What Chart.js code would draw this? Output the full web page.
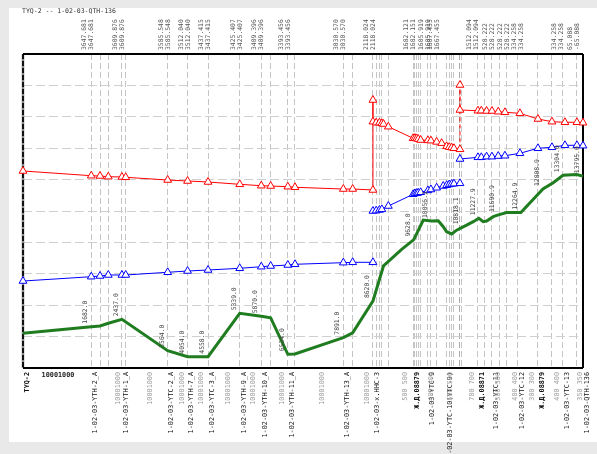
<!DOCTYPE html>
<html>
<head>
<meta charset="utf-8">
<script src="https://cdn.jsdelivr.net/npm/chart.js@4.4.1/dist/chart.umd.min.js"></script>
<style>
  html, body { margin: 0; padding: 0; background: #e9e9e9; }
  #sheet { position: absolute; left: 9px; top: 8px; width: 588px; height: 434px; background: #fff; }
  #wrap { position: absolute; left: 0; top: 0; width: 597px; height: 454px; }
</style>
</head>
<body>
<div id="sheet"></div>
<div id="wrap"><canvas id="profile" width="597" height="454"></canvas></div>
<script>
// Route TYQ-2 -> 1-02-03-QTH-136, distance along the line (m)
const routeTitle = 'TYQ-2 -- 1-02-03-QTH-136';
const routeLength = 13795;

// Station / fitting positions (vertical dashed lines)
const gridDist = [0, 1682, 1897, 2101, 2437, 2530, 3564, 4054, 4558, 5339, 5870, 6101, 6524, 6700,
  7891, 8121, 8620, 8700, 8780, 8840, 9000, 9610, 9655, 9697, 9736, 9796, 9975, 10049, 10190,
  10436, 10500, 10559, 10616, 10746, 10764, 10805, 11207, 11379, 11552, 11749, 11921, 12192,
  12685, 13030, 13300, 13645, 13795];

// Ground elevation profile
const groundDist = [0, 1682, 1897, 2101, 2437, 3564, 4054, 4558, 5339, 5870, 6101, 6524, 6700,
  7891, 8121, 8620, 8880, 9328, 9628, 9860, 10056.1, 10229, 10352, 10436, 10559, 10682, 10818.1,
  10929, 11091, 11227.9, 11337, 11421, 11584, 11690.9, 11914, 12264.9, 12808.9, 13060, 13304, 13638, 13795];
const groundElev = [110.5, 131.5, 133.8, 142.4, 155, 55, 36, 36, 174, 164.6, 160, 43.6, 44.6,
  96.5, 112, 213, 325, 378, 409, 471, 468, 469, 450, 434, 427, 439, 448,
  455, 466, 477, 466, 468, 482, 487, 495, 495, 570, 590, 614, 616, 611];

// Mileage marks written along the ground line
const groundMarkDist = [1682.0, 2437.0, 3564.0, 4054.0, 4558.0, 5339.0, 5870.0, 6524.0, 7891.0,
  8620.0, 9628.0, 10056.1, 10818.1, 11227.9, 11690.9, 12264.9, 12808.9, 13304.0, 13795.0];

// Upper line (red)
const upperDist = [0, 1682, 1897, 2101, 2437, 2530, 3564, 4054, 4558, 5339, 5870, 6101, 6524, 6700,
  7891, 8121, 8620, 8620, 8620, 8700, 8780, 8840, 8880, 9000, 9610, 9655, 9697, 9736, 9796, 9975,
  10049, 10190, 10313, 10436, 10500, 10559, 10616, 10764, 10764, 10764, 11207, 11290, 11420, 11552,
  11707, 11872, 12241, 12685, 13030, 13350, 13645, 13795];
const upperHead = [627.4, 612.4, 611.5, 609.2, 608.3, 607.3, 598.7, 595.5, 592.4, 585, 580.6, 579.6,
  577.4, 575.5, 570, 570, 566.9, 853.5, 784.4, 781.2, 781.2, 779.3, 777, 768.5, 731.5, 732, 731, 729,
  726, 725, 724, 720, 716, 706, 703.5, 702, 699.7, 696.5, 901.3, 821.7, 819.4, 819.4, 818.5, 818.5,
  816.2, 814.3, 811.1, 793, 784.4, 782.5, 782.5, 781.2];
const upperDashedJump = 10764;

// Lower line (blue), broken at the two stations
const lowerDist = [0, 1682, 1897, 2101, 2437, 2530, 3564, 4054, 4558, 5339, 5870, 6101, 6524, 6700,
  7891, 8121, 8620, 8620, 8620, 8700, 8780, 8840, 9000, 9610, 9655, 9697, 9736, 9796, 9975, 10049,
  10190, 10352, 10436, 10500, 10559, 10616, 10764, 10764, 10764, 11207, 11290, 11420, 11552, 11707,
  11872, 12241, 12685, 13030, 13350, 13645, 13795];
const lowerHead = [277, 290.8, 293, 296.2, 296.2, 296.2, 304.8, 308.9, 312.1, 317.5, 322.6, 324.8,
  328, 330.3, 335.4, 336.6, 336.6, null, 500, 501, 503.2, 505.3, 515.9, 553.2, 556, 557, 558, 559.6,
  565.6, 568.5, 574, 579.6, 582, 584.4, 586, 587, 588.2, null, 665.6, 671, 671, 673, 673, 675, 676,
  683.8, 699.7, 702.9, 709.2, 709.2, 708];

// Paired values written above the frame
const topDist = [1682, 2437, 3564, 4054, 4558, 5339, 5870, 6524, 7891, 8620, 9610, 9975, 10190,
  11150, 11552, 11921, 12260, 13250, 13645];
const topValueIn = [3647.681, 3609.876, 3585.548, 3512.040, 3437.415, 3425.407, 3409.396, 3393.456,
  3030.570, 2118.024, 1682.121, 1605.919, 1607.455, 1512.094, 528.222, 528.222, 334.258, 334.258, 65.088];
const topValueOut = [3647.681, 3609.876, 3585.548, 3512.040, 3437.415, 3425.407, 3409.396, 3393.456,
  3030.570, 2118.024, 1682.151, 1605.919, 1667.455, 1512.094, 528.222, 528.222, 334.258, 334.258, -65.088];

// Object names under the frame
const nameDist = [0, 1682, 2437, 3564, 4054, 4558, 5339, 5870, 6524, 7891, 8620, 9610, 9975, 10436,
  11207, 11552, 12192, 12685, 13300, 13795];
const nameText = ['TYQ-2', '1-02-03-YTH-2_A', '1-02-03-YTH-1_A', '1-02-03-YTC-2_A', '1-02-03-YTH-7_A',
  '1-02-03-YTC-3_A', '1-02-03-YTH-9_A', '1-02-03-YTH-10_A', '1-02-03-YTH-11_A', '1-02-03-YTH-13_A',
  '1-02-03-x.HHC-3', 'Ж.Д.08879', '1-02-03-YTC-9', '1-02-03-YTC-10(YTC-9)', 'Ж.Д.08871',
  '1-02-03-YTC-11', '1-02-03-YTC-12', 'Ж.Д.08879', '1-02-03-YTC-13', '1-02-03-QTH-136'];
const nameBold = [true, false, false, false, false, false, false, false, false, false,
  false, true, false, false, true, false, false, true, false, false];

// Pipe diameter marks (in / out)
const diameterDist = [2340, 3128, 3916, 4384, 5049, 5665, 6379, 7365, 8473, 9409, 10049, 10517,
  11059, 11700, 12118, 12537, 13153, 13719];
const diameterText = ['10001000', '10001000', '10001000', '10001000', '10001000', '10001000',
  '10001000', '10001000', '10001000', '500 500', '400 400', '500 500', '700 700', '500 500',
  '400 400', '300 300', '400 400', '350 350'];
const startDiameterText = '10001000';
const startDiameterDist = 862;

const MONO = '"DejaVu Sans Mono", "Liberation Mono", monospace';

function pts(xs, ys) { return xs.map((x, i) => ({ x: x, y: ys[i] })); }

function groundAt(d) {
  for (let i = 1; i < groundDist.length; i++) {
    if (d <= groundDist[i]) {
      const t = (d - groundDist[i - 1]) / (groundDist[i] - groundDist[i - 1]);
      return groundElev[i - 1] + t * (groundElev[i] - groundElev[i - 1]);
    }
  }
  return groundElev[groundElev.length - 1];
}

function vText(c, str, x, y, align, baseline, font, color) {
  c.save();
  c.translate(x, y);
  c.rotate(-Math.PI / 2);
  c.textAlign = align;
  c.textBaseline = baseline;
  c.font = font;
  c.fillStyle = color;
  c.fillText(str, 0, 0);
  c.restore();
}

const frame = {
  id: 'frame',
  beforeDatasetsDraw(chart) {
    const c = chart.ctx, a = chart.chartArea;
    c.save();
    c.lineCap = 'butt';
    // start station line
    c.strokeStyle = '#8a8a8a'; c.lineWidth = 2.5;
    c.beginPath(); c.moveTo(a.left, a.top); c.lineTo(a.left, a.bottom); c.stroke();
    c.strokeStyle = '#111'; c.lineWidth = 2; c.setLineDash([5, 2]);
    c.beginPath(); c.moveTo(a.left, a.top); c.lineTo(a.left, a.bottom); c.stroke();
    c.setLineDash([]);
    c.strokeStyle = '#000'; c.lineWidth = 2;
    c.beginPath();
    c.moveTo(a.left, a.top); c.lineTo(a.right, a.top);
    c.moveTo(a.right, a.top); c.lineTo(a.right, a.bottom);
    c.moveTo(a.left, a.bottom); c.lineTo(a.right, a.bottom);
    c.stroke();
    c.restore();
  },
  afterDraw(chart) {
    const c = chart.ctx, a = chart.chartArea;
    const xs = chart.scales.x, ys = chart.scales.y;
    c.save();
    // title
    c.font = '6.5px ' + MONO; c.fillStyle = '#333'; c.textBaseline = 'middle'; c.textAlign = 'left';
    c.fillText(routeTitle, 22, 11.5);

    // values above the frame
    const topFont = '6.4px ' + MONO;
    topDist.forEach((d, i) => {
      const px = xs.getPixelForValue(d);
      vText(c, topValueIn[i].toFixed(3), px - 6.5, a.top - 4, 'left', 'middle', topFont, '#555');
      vText(c, topValueOut[i].toFixed(3), px + 0.5, a.top - 4, 'left', 'middle', topFont, '#555');
    });

    // mileage marks on the ground line
    const markFont = '6.4px ' + MONO;
    groundMarkDist.forEach(d => {
      const px = xs.getPixelForValue(d), py = ys.getPixelForValue(groundAt(d));
      vText(c, d.toFixed(1), px - 2.5, py - 3, 'left', 'bottom', markFont, '#444');
    });

    // names under the frame
    nameDist.forEach((d, i) => {
      const px = xs.getPixelForValue(d);
      const font = (nameBold[i] ? 'bold ' : '') + '6.8px ' + MONO;
      vText(c, nameText[i], px + 4, a.bottom + 4, 'right', 'middle', font, '#111');
    });

    // diameters
    diameterDist.forEach((d, i) => {
      const px = xs.getPixelForValue(d);
      vText(c, diameterText[i], px, a.bottom + 4, 'right', 'middle', '6.8px ' + MONO, '#999');
    });
    c.font = 'bold 6.8px ' + MONO; c.fillStyle = '#222'; c.textAlign = 'center'; c.textBaseline = 'middle';
    c.fillText(startDiameterText, xs.getPixelForValue(startDiameterDist), a.bottom + 7);
    c.restore();
  }
};

new Chart(document.getElementById('profile'), {
  type: 'line',
  data: {
    datasets: [
      {
        label: 'ground',
        data: pts(groundDist, groundElev),
        borderColor: '#1f7c1f',
        borderWidth: 3,
        pointRadius: 0,
        tension: 0,
        clip: false
      },
      {
        label: 'upper',
        data: pts(upperDist, upperHead),
        borderColor: '#ff0000',
        borderWidth: 1,
        pointStyle: 'triangle',
        pointRadius: 4.5,
        pointBackgroundColor: '#ffffff',
        pointBorderColor: '#ff0000',
        pointBorderWidth: 1,
        tension: 0,
        clip: false,
        segment: {
          borderDash: ctx => (ctx.p0.parsed.x === upperDashedJump && ctx.p1.parsed.x === upperDashedJump) ? [4, 3] : undefined
        }
      },
      {
        label: 'lower',
        data: pts(lowerDist, lowerHead),
        borderColor: '#0000ff',
        borderWidth: 1,
        pointStyle: 'triangle',
        pointRadius: 4.5,
        pointBackgroundColor: '#ffffff',
        pointBorderColor: '#0000ff',
        pointBorderWidth: 1,
        tension: 0,
        spanGaps: false,
        clip: false
      }
    ]
  },
  options: {
    responsive: false,
    animation: false,
    events: [],
    layout: { padding: { left: 23, right: 14, top: 54, bottom: 86 } },
    plugins: { legend: { display: false }, tooltip: { enabled: false } },
    scales: {
      x: {
        type: 'linear',
        min: 0,
        max: routeLength,
        afterBuildTicks: s => { s.ticks = gridDist.map(v => ({ value: v })); },
        ticks: { display: false },
        grid: { color: 'rgba(150,150,150,0.55)', lineWidth: 1, drawTicks: false },
        border: { display: false, dash: [6, 3] }
      },
      y: {
        min: 0,
        max: 1000,
        ticks: { display: false, stepSize: 100 },
        grid: { color: '#cfcfcf', lineWidth: 1, drawTicks: false },
        border: { display: false, dash: [9, 4] }
      }
    }
  },
  plugins: [frame]
});
</script>
</body>
</html>
